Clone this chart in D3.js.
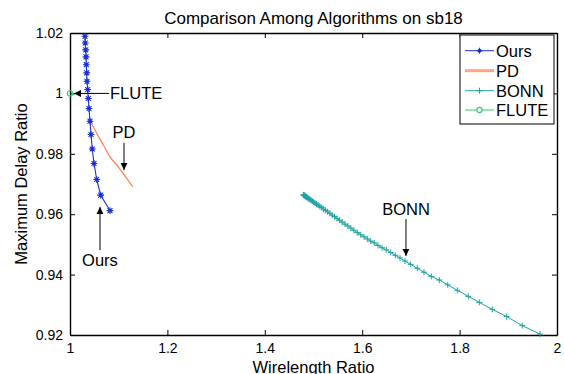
<!DOCTYPE html>
<html><head><meta charset="utf-8">
<script src="https://cdn.jsdelivr.net/npm/d3@7"></script>
<style>body{margin:0;background:#fff}svg{display:block;font-family:"Liberation Sans",Arial,Helvetica,sans-serif}</style>
</head><body><svg id="c" width="564" height="374"></svg>
<script>
// ---- data ----
const oursX = [1.0308,1.0314,1.0322,1.0329,1.0335,1.0343,1.0349,1.0363,1.0376,1.0390,1.0411,1.0431,1.0458,1.0493,1.0548,1.0630,1.0821];
const oursY = [1.0189,1.0167,1.0144,1.0121,1.0095,1.0068,1.0040,1.0013,0.9983,0.9950,0.9908,0.9864,0.9816,0.9768,0.9715,0.9663,0.9612];
const pdX = [1.0446,1.0548,1.0684,1.0821,1.0992,1.1164,1.1287];
const pdY = [0.9899,0.9868,0.9829,0.9790,0.9757,0.9719,0.9691];
const bonnX = [1.4793,1.4798,1.4804,1.4811,1.4820,1.4830,1.4842,1.4855,1.4870,1.4887,1.4906,1.4927,1.4950,1.4975,1.5002,1.5031,1.5062,1.5095,1.5130,1.5167,1.5206,1.5247,1.5290,1.5335,1.5382,1.5431,1.5482,1.5535,1.5590,1.5647,1.5706,1.5767,1.5830,
  1.5899,1.5969,1.6037,1.6105,1.6175,1.6248,1.6324,1.6407,1.6495,1.6585,1.6680,1.6776,1.6879,1.6996,1.7131,1.7269,1.7419,1.7583,1.7756,1.7953,1.8179,1.8405,1.8671,1.8967,1.9287,1.9651];
const bonnY = [0.9664,0.9663,0.9663,0.9662,0.9661,0.9660,0.9658,0.9657,0.9655,0.9653,0.9651,0.9649,0.9646,0.9643,0.9640,0.9637,0.9633,0.9630,0.9626,0.9622,0.9617,0.9613,0.9608,0.9603,0.9597,0.9592,0.9586,0.9580,0.9574,0.9567,0.9561,0.9554,0.9547,
  0.9539,0.9532,0.9525,0.9518,0.9511,0.9505,0.9497,0.9489,0.9482,0.9473,0.9464,0.9455,0.9445,0.9434,0.9421,0.9408,0.9394,0.9382,0.9366,0.9348,0.9328,0.9308,0.9285,0.9261,0.9231,0.9203];
const fluteX = [1.0];
const fluteY = [1.0];
const seriesNames = ["Ours","PD","BONN","FLUTE"];
const xTicks = [1,1.2,1.4,1.6,1.8,2];
const xTickLabels = ["1","1.2","1.4","1.6","1.8","2"];
const yTicks = [0.92,0.94,0.96,0.98,1.0,1.02];
const yTickLabels = ["0.92","0.94","0.96","0.98","1","1.02"];
// annotations: label, text anchor point, arrow tail, arrow tip (data units)
const annText = ["FLUTE","PD","Ours","BONN"];
const annTextX = [1.0821,1.1109,1.0616,1.6899];
const annTextY = [1.0,0.9851,0.9428,0.9597];
const annTailX = [1.0801,1.1109,1.0616,1.6899];
const annTailY = [1.0,0.9836,0.9481,0.9584];
const annTipX = [1.0082,1.1109,1.0616,1.6899];
const annTipY = [1.0,0.9746,0.9624,0.9462];

// ---- layout ----
const W = 564, H = 374;
const L = 70, R = 557, T = 33, B = 335;
const colors = {Ours:"#1d2fd6", PD:"#ff7a4a", BONN:"#1fa3a3", FLUTE:"#2ecc6a"};
const svg = d3.select("#c");
svg.append("rect").attr("width",W).attr("height",H).attr("fill","#fff");
const x = d3.scaleLinear().domain([1,2]).range([L,R]);
const y = d3.scaleLinear().domain([0.92,1.02]).range([B,T]);

const fs = 14;
// axes
const gB = svg.append("g").attr("transform",`translate(0,${B})`)
  .call(d3.axisBottom(x).tickValues(xTicks).tickFormat((d,i)=>xTickLabels[i]).tickSizeInner(-5).tickSizeOuter(0).tickPadding(8));
const gL = svg.append("g").attr("transform",`translate(${L},0)`)
  .call(d3.axisLeft(y).tickValues(yTicks).tickFormat((d,i)=>yTickLabels[i]).tickSizeInner(-5).tickSizeOuter(0).tickPadding(7));
const gT = svg.append("g").attr("transform",`translate(0,${T})`)
  .call(d3.axisTop(x).tickValues(xTicks).tickFormat("").tickSizeInner(-5).tickSizeOuter(0));
const gR = svg.append("g").attr("transform",`translate(${R},0)`)
  .call(d3.axisRight(y).tickValues(yTicks).tickFormat("").tickSizeInner(-5).tickSizeOuter(0));
[gB,gL,gT,gR].forEach(g=>{
  g.selectAll("text").attr("font-size",fs).attr("fill","#000").attr("font-family",'"Liberation Sans",Arial,sans-serif');
  g.selectAll("line").attr("stroke","#000").attr("stroke-width",1);
  g.select(".domain").attr("stroke","#000").attr("stroke-width",1.4);
});

// line generator
const line = d3.line().x(d=>x(d[0])).y(d=>y(d[1]));
const zip = (a,b)=>a.map((v,i)=>[v,b[i]]);

function asterisk(g, cx, cy, r, col){
  const d = `M${cx-r},${cy}L${cx+r},${cy}M${cx},${cy-r}L${cx},${cy+r}M${cx-r*0.72},${cy-r*0.72}L${cx+r*0.72},${cy+r*0.72}M${cx-r*0.72},${cy+r*0.72}L${cx+r*0.72},${cy-r*0.72}`;
  g.append("path").attr("d",d).attr("stroke",col).attr("stroke-width",1.1).attr("fill","none");
  g.append("circle").attr("cx",cx).attr("cy",cy).attr("r",1.8).attr("fill",col);
}
function plus(g, cx, cy, r, col){
  g.append("path").attr("d",`M${cx-r},${cy}L${cx+r},${cy}M${cx},${cy-r}L${cx},${cy+r}`).attr("stroke",col).attr("stroke-width",1).attr("fill","none");
}

const plot = svg.append("g");
// Ours
const ours = zip(oursX,oursY);
plot.append("path").attr("d",line(ours)).attr("stroke",colors.Ours).attr("stroke-width",1.1).attr("fill","none");
ours.forEach(p=>asterisk(plot,x(p[0]),y(p[1]),3.4,colors.Ours));
// PD
const pd = zip(pdX,pdY);
plot.append("path").attr("d",d3.line().curve(d3.curveMonotoneX).x(d=>x(d[0])).y(d=>y(d[1]))(pd)).attr("stroke",colors.PD).attr("stroke-width",1.2).attr("fill","none");
// BONN
const bonn = zip(bonnX,bonnY);
plot.append("path").attr("d",line(bonn)).attr("stroke",colors.BONN).attr("stroke-width",1).attr("fill","none");
bonn.forEach(p=>plus(plot,x(p[0]),y(p[1]),3,colors.BONN));
// FLUTE
zip(fluteX,fluteY).forEach(p=>plot.append("circle").attr("cx",x(p[0])).attr("cy",y(p[1])).attr("r",2.6).attr("fill","none").attr("stroke",colors.FLUTE).attr("stroke-width",1.1));

// annotations
svg.append("defs").append("marker").attr("id","ah").attr("viewBox","0 0 10 10").attr("refX",10).attr("refY",5)
  .attr("markerWidth",9).attr("markerHeight",7).attr("markerUnits","userSpaceOnUse").attr("orient","auto")
  .append("path").attr("d","M0,0L10,5L0,10Z").attr("fill","#000");
const annFs = 16.5;
annText.forEach((t,i)=>{
  svg.append("line").attr("x1",x(annTailX[i])).attr("y1",y(annTailY[i])).attr("x2",x(annTipX[i])).attr("y2",y(annTipY[i]))
    .attr("stroke","#000").attr("stroke-width",1).attr("marker-end","url(#ah)");
  const tx = svg.append("text").attr("x",x(annTextX[i])).attr("y",y(annTextY[i])).attr("font-size",annFs).attr("fill","#000").text(t);
  if(i===0){ tx.attr("text-anchor","start").attr("dy","0.36em"); }
  else tx.attr("text-anchor","middle");
});

// title & labels
svg.append("text").attr("x",(L+R)/2).attr("y",24).attr("text-anchor","middle").attr("font-size",17).text("Comparison Among Algorithms on sb18");
svg.append("text").attr("x",(L+R)/2).attr("y",372.5).attr("text-anchor","middle").attr("font-size",16.5).text("Wirelength Ratio");
svg.append("text").attr("transform",`translate(27,${(T+B)/2}) rotate(-90)`).attr("text-anchor","middle").attr("font-size",16.5).text("Maximum Delay Ratio");

// legend
const lg = svg.append("g");
lg.append("rect").attr("x",460).attr("y",35).attr("width",94).attr("height",89).attr("fill","#fff").attr("stroke","#000").attr("stroke-width",1);
const legY = [50.7,70.7,90.7,110];
seriesNames.forEach((n,i)=>{
  const yy = legY[i];
  const c = colors[n];
  if(n==="PD"){
    lg.append("line").attr("x1",465).attr("x2",494).attr("y1",yy).attr("y2",yy).attr("stroke","#ffa68a").attr("stroke-width",3);
  } else {
    lg.append("line").attr("x1",465).attr("x2",494).attr("y1",yy).attr("y2",yy).attr("stroke",c).attr("stroke-width",1);
  }
  if(n==="Ours"){ lg.append("circle").attr("cx",479.5).attr("cy",yy).attr("r",2).attr("fill",c); plus(lg,479.5,yy,3,c); }
  if(n==="BONN") plus(lg,479.5,yy,3,c);
  if(n==="FLUTE") lg.append("circle").attr("cx",479.5).attr("cy",yy).attr("r",2.6).attr("fill","#fff").attr("stroke",c).attr("stroke-width",1.1);
  lg.append("text").attr("x",496).attr("y",yy).attr("dy","0.36em").attr("font-size",16.5).text(n);
});
</script></body></html>
